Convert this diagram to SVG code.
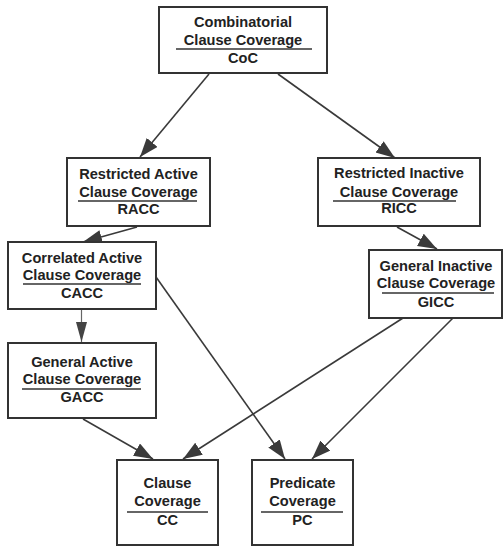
<svg xmlns="http://www.w3.org/2000/svg" width="504" height="546" viewBox="0 0 504 546">
<style>
.box{fill:#fff;stroke:#333;stroke-width:2}
.t{font-family:"Liberation Sans",Arial,sans-serif;font-weight:bold;font-size:14.6px;fill:#222;text-anchor:middle}
.sep{stroke:#333;stroke-width:1.6}
.c{fill:none;stroke:#3a3a3a;stroke-width:1.6}
.c2{fill:none;stroke:#666;stroke-width:1.2}
</style>
<defs>
<marker id="ah" markerUnits="userSpaceOnUse" markerWidth="20" markerHeight="15" refX="19" refY="7" orient="auto">
<path d="M0,0 L19,7 L0,14 z" fill="#3a3a3a"/>
</marker>
<marker id="ah2" markerUnits="userSpaceOnUse" markerWidth="20" markerHeight="12" refX="20" refY="5.5" orient="auto">
<path d="M0,0 L20,5.5 L0,11 z" fill="#444"/>
</marker>
</defs>
<rect width="504" height="546" fill="#fff"/>
<g id="connectors">
<line class="c" x1="209" y1="74" x2="140" y2="157" marker-end="url(#ah)"/>
<line class="c" x1="278" y1="74" x2="395" y2="158" marker-end="url(#ah)"/>
<line class="c" x1="137" y1="227" x2="83" y2="242" marker-end="url(#ah)"/>
<line class="c" x1="397" y1="227" x2="437" y2="249" marker-end="url(#ah)"/>
<line class="c2" x1="81.5" y1="310" x2="81.5" y2="342" marker-end="url(#ah2)"/>
<line class="c" x1="156" y1="277" x2="285" y2="459" marker-end="url(#ah)"/>
<line class="c" x1="83" y1="419" x2="153" y2="459" marker-end="url(#ah)"/>
<line class="c" x1="403" y1="318" x2="183" y2="459" marker-end="url(#ah)"/>
<line class="c" x1="453" y1="318" x2="312" y2="459" marker-end="url(#ah)"/>
</g>
<g id="CoC">
<rect class="box" x="159" y="7" width="168" height="66"/>
<text class="t" x="243" y="27">Combinatorial</text>
<text class="t" x="243" y="45">Clause Coverage</text>
<line class="sep" x1="176" y1="49" x2="312" y2="49"/>
<text class="t" x="243" y="63">CoC</text>
</g>
<g id="RACC">
<rect class="box" x="67" y="158" width="143" height="68"/>
<text class="t" x="138.5" y="179">Restricted Active</text>
<text class="t" x="138.5" y="197">Clause Coverage</text>
<line class="sep" x1="78" y1="201" x2="197" y2="201"/>
<text class="t" x="138.5" y="214">RACC</text>
</g>
<g id="RICC">
<rect class="box" x="318" y="158" width="162" height="68"/>
<text class="t" x="399" y="178">Restricted Inactive</text>
<text class="t" x="399" y="197">Clause Coverage</text>
<line class="sep" x1="333" y1="201" x2="456" y2="201"/>
<text class="t" x="399" y="213">RICC</text>
</g>
<g id="CACC">
<rect class="box" x="8" y="242" width="148" height="67"/>
<text class="t" x="82" y="263">Correlated Active</text>
<text class="t" x="82" y="280">Clause Coverage</text>
<line class="sep" x1="23" y1="284" x2="141" y2="284"/>
<text class="t" x="82" y="298">CACC</text>
</g>
<g id="GICC">
<rect class="box" x="369" y="250" width="133" height="68"/>
<text class="t" x="436" y="271">General Inactive</text>
<text class="t" x="436" y="288">Clause Coverage</text>
<line class="sep" x1="382" y1="293" x2="494" y2="293"/>
<text class="t" x="436" y="307">GICC</text>
</g>
<g id="GACC">
<rect class="box" x="8" y="343" width="148" height="75"/>
<text class="t" x="82" y="367">General Active</text>
<text class="t" x="82" y="384">Clause Coverage</text>
<line class="sep" x1="22" y1="389" x2="141" y2="389"/>
<text class="t" x="82" y="402">GACC</text>
</g>
<g id="CC">
<rect class="box" x="117" y="460" width="101" height="85"/>
<text class="t" x="167.5" y="488">Clause</text>
<text class="t" x="167.5" y="506">Coverage</text>
<line class="sep" x1="127" y1="512" x2="208" y2="512"/>
<text class="t" x="167.5" y="525">CC</text>
</g>
<g id="PC">
<rect class="box" x="252" y="460" width="101" height="85"/>
<text class="t" x="302.5" y="488">Predicate</text>
<text class="t" x="302.5" y="506">Coverage</text>
<line class="sep" x1="261" y1="512" x2="343" y2="512"/>
<text class="t" x="302.5" y="525">PC</text>
</g>
</svg>
